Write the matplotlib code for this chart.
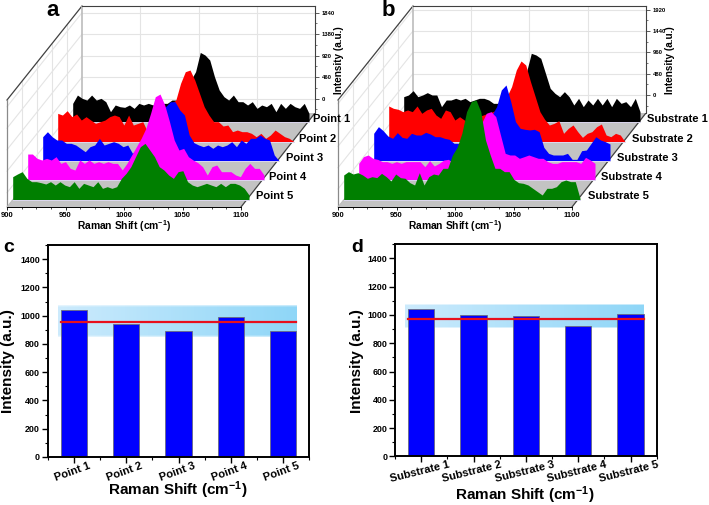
import numpy as np
import matplotlib
matplotlib.use("Agg")
import matplotlib.pyplot as plt
from matplotlib.patches import Polygon
from matplotlib.transforms import Affine2D
from matplotlib.ticker import MultipleLocator

plt.rcParams['font.family'] = ['Liberation Sans', 'DejaVu Sans']
plt.rcParams['font.weight'] = 'bold'
plt.rcParams['mathtext.fontset'] = 'custom'
plt.rcParams['mathtext.bf'] = 'Liberation Sans:bold'
plt.rcParams['mathtext.rm'] = 'Liberation Sans:bold'
plt.rcParams['mathtext.default'] = 'bf'

W, H = 709, 505
shift = np.arange(900, 1101, 4)

point1 = [-100,78,7,-29,78,-29,7,-64,-278,-135,-171,-185,-135,-207,-100,-135,-100,-135,-64,-100,-100,-29,-29,43,114,399,578,990,934,827,470,185,43,-29,78,-64,-64,-135,-64,-207,-135,-171,-100,-278,-100,-207,-100,-171,-207,-100,-314]
point2 = [100,64,157,29,86,-43,29,-43,-114,-78,-43,29,64,29,-150,64,-150,-114,-78,-292,-185,29,100,207,314,385,742,991,1027,813,528,242,64,-78,-78,-171,-150,-292,-257,-292,-292,-328,-399,-328,-435,-364,-257,-328,-399,-435,-506]
point3 = [14,121,14,-57,-57,-128,-128,-164,-235,-307,-200,-164,-21,-164,-128,-93,-128,-200,-164,-342,-235,-57,86,299,513,585,656,763,763,585,478,50,-114,-164,-200,-164,-235,-164,-200,-164,-93,-200,-57,-128,-21,-21,50,-21,-57,-378,-499]
point4 = [57,57,-36,-71,-36,-71,0,-143,-107,-250,-285,-71,-143,-71,-143,-107,-143,-107,-143,-143,-285,-143,36,214,392,606,927,1283,1340,1105,749,357,143,178,0,-71,-128,-214,-392,-214,-178,-321,-321,-321,-392,-428,-250,-143,-250,-250,-392]
point5 = [-14,43,93,-50,-121,-121,-143,-171,-121,-193,-121,-193,-228,-121,-264,-157,-193,-228,-121,-264,-228,-264,-228,-50,57,200,414,627,699,556,414,200,128,21,-50,93,114,-121,-193,-228,-193,-157,-193,-228,-157,-228,-157,-157,-193,-264,-406]

sub1 = [-38,0,98,-38,0,53,0,0,-263,-113,-113,-75,-113,-75,-150,-113,-75,-75,-113,-188,-188,-263,-113,-38,113,263,525,938,900,825,488,150,38,-38,75,-38,-225,-75,-263,-113,-225,-75,-225,-75,-263,-75,-188,-150,-263,-75,-375]
sub2 = [188,135,113,60,98,60,188,23,98,135,-15,-90,98,60,-128,-53,-128,-203,-53,-53,-15,23,60,98,173,398,623,998,1200,1110,735,398,60,-113,-240,-203,-143,-428,-315,-240,-390,-518,-428,-390,-278,-218,-465,-503,-428,-465,-615]
sub3 = [8,158,68,-53,-105,23,-83,-105,8,-30,-30,30,-8,-68,-68,-105,-128,-218,-218,-218,-180,-143,-68,8,158,420,608,983,1095,720,270,120,98,83,98,45,-308,-443,-480,-480,-480,-443,-578,-578,-383,-368,-218,-68,-143,-180,-233]
sub4 = [-233,-83,-45,-120,-143,-195,-195,-233,-195,-233,-195,-195,-195,-195,-308,-173,-293,-233,-158,-143,-233,-158,-83,68,218,443,668,893,930,818,405,-8,-45,-45,-120,-83,-45,-83,-120,-120,-195,-233,-233,-195,-195,-195,-195,-233,-98,-158,-233]
sub5 = [-60,15,-38,-8,-60,-135,-98,-120,-23,-98,-195,-38,-120,-135,-233,-285,-8,-285,-98,-38,-60,90,90,390,563,878,1365,1590,1628,1365,728,390,90,90,15,15,-158,-233,-248,-285,-360,-435,-510,-360,-360,-323,-210,-173,-210,-210,-585]

point_names = ['Point 1', 'Point 2', 'Point 3', 'Point 4', 'Point 5']
sub_names = ['Substrate 1', 'Substrate 2', 'Substrate 3', 'Substrate 4', 'Substrate 5']
colors = ['#000000', '#ff0000', '#0000ff', '#ff00ff', '#007f00']
ticks_a = [0, 460, 920, 1380, 1840]
ticks_b = [0, 480, 960, 1440, 1920]

bars_c = [1040, 940, 895, 990, 890]
bars_d = [1040, 1000, 990, 920, 1005]
mean_c, band_c = 955, (850, 1075)
mean_d, band_d = 975, (905, 1070)

fig = plt.figure(figsize=(W / 100, H / 100), dpi=100, facecolor='white')


def px_axes(l, t, r, b, **kw):
    return fig.add_axes([l / W, 1 - b / H, (r - l) / W, (b - t) / H], **kw)


bg = px_axes(0, 0, W, H, zorder=0)
bg.set_xlim(0, W)
bg.set_ylim(H, 0)
bg.axis('off')


def panel3d(ox, series, names, ticks, zero_y, scale, label_xs, letter, letter_x):
    FL, FR, BL, BR = 7 + ox, 241 + ox, 82 + ox, 315 + ox
    top, floor, front = 6, 113, 207
    wall_top_left = 100
    bg.add_patch(Polygon([(FL, front), (FR, front), (BR, floor), (BL, floor)],
                         fc='#c3c3c3', ec='none'))
    g = '#e4e4e4'
    for t in ticks:
        y = zero_y - t / scale
        bg.plot([FL, BL], [y + 94, y], color=g, lw=0.8)
    for k in range(1, 5):
        xk = BL - 15 * k
        bg.plot([xk, xk], [top + 18.8 * k, floor + 18.8 * k], color=g, lw=0.8)
    bg.plot([FL, BL], [wall_top_left, top], color='#404040', lw=0.9)
    bg.plot([FL, FL], [wall_top_left, front], color='#8a8a8a', lw=0.9)
    bg.plot([FL, BL], [front, floor], color='#bdbdbd', lw=0.8)
    bg.plot([FR, BR], [front, floor], color='#404040', lw=0.9)

    wall = px_axes(BL, top, BR, floor, zorder=1)
    wall.set_xlim(900, 1100)
    wall.set_ylim((zero_y - floor) * scale, (zero_y - top) * scale)
    wall.set_xticks([950, 1000, 1050])
    wall.tick_params(axis='x', length=0, labelbottom=False)
    wall.grid(True, color=g, lw=0.8)
    wall.set_axisbelow(True)
    wall.yaxis.tick_right()
    wall.set_yticks(ticks)
    wall.yaxis.set_minor_locator(MultipleLocator((ticks[1] - ticks[0]) / 2))
    wall.tick_params(axis='y', which='major', labelsize=4.2, length=3, width=0.6, pad=2, color='#404040')
    wall.tick_params(axis='y', which='minor', length=1.5, width=0.5, color='#404040')
    wall.spines['bottom'].set_visible(False)
    wall.spines['left'].set_color('#bcbcbc')
    wall.spines['left'].set_linewidth(1.2)
    wall.spines['top'].set_color('#404040')
    wall.spines['right'].set_color('#404040')
    wall.spines['top'].set_linewidth(0.8)
    wall.spines['right'].set_linewidth(0.8)

    fx = px_axes(FL, front - 1, FR, front, zorder=2)
    fx.patch.set_alpha(0)
    fx.set_xlim(900, 1100)
    fx.set_yticks([])
    fx.set_xticks([900, 950, 1000, 1050, 1100])
    fx.xaxis.set_minor_locator(MultipleLocator(12.5))
    fx.tick_params(axis='x', which='major', labelsize=5.5, length=2.5, width=0.6, pad=1)
    fx.tick_params(axis='x', which='minor', length=1.5, width=0.5)
    for s in ['top', 'left', 'right']:
        fx.spines[s].set_visible(False)
    fx.spines['bottom'].set_linewidth(0.7)

    ax = px_axes(72.7 + ox, top, 309 + ox, 122.3, zorder=3)
    ax.axis('off')
    ax.set_xlim(900, 1100)
    ax.set_ylim((zero_y - 122.3) * scale, (zero_y - top) * scale)
    base = ax.get_ylim()[0]
    for k, (vals, c) in enumerate(zip(series, colors)):
        tr = ax.transData + Affine2D().translate(-15 * k, -19.33 * k)
        ax.fill_between(shift, vals, base, color=c, lw=0, transform=tr, clip_on=False, zorder=2 + k)
        ax.plot([900, 1100], [base, base], color='#ddd8f0', lw=0.7, transform=tr,
                clip_on=False, zorder=2 + k)

    label_ys = [119, 138.5, 158, 177, 196]
    for name, lx, ly in zip(names, label_xs, label_ys):
        fig.text(lx / W, 1 - ly / H, name, fontsize=8, ha='left', va='center', zorder=6)
    fig.text((124 + ox) / W, 1 - 226 / H, r'Raman Shift (cm$^{-1}$)', fontsize=7.4, ha='center', va='center')
    fig.text((339 + ox) / W, 1 - 60 / H, 'Intensity (a.u.)', fontsize=7.2,
             rotation=90, ha='center', va='center', zorder=6)
    fig.text(letter_x / W, 1 - 11 / H, letter, fontsize=16, ha='center', va='center', zorder=6)


panel3d(0, [point1, point2, point3, point4, point5], point_names, ticks_a, 98.7, 21.4,
        [313, 299, 286, 269, 256], 'a', 53)
panel3d(331, [sub1, sub2, sub3, sub4, sub5], sub_names, ticks_b, 95, 22.5,
        [647, 632, 617, 601, 588], 'b', 388)


def barpanel(l, t, r, b, vals, mean, band, names, letter, lx, rot, lab):
    ax = px_axes(l, t, r, b, zorder=2)
    pos = np.arange(1, 6)
    n = 60
    rgba = np.zeros((24, n, 4))
    rgba[..., 0] = np.linspace(0.80, 0.56, n)
    rgba[..., 1] = np.linspace(0.92, 0.84, n)
    rgba[..., 2] = np.linspace(0.99, 0.97, n)
    rgba[..., 3] = 1
    rgba[0, :, 3] = rgba[-1, :, 3] = 0.5
    ax.imshow(rgba, extent=(0.69, 5.25, band[0], band[1]), aspect='auto',
              origin='lower', zorder=1, interpolation='bilinear')
    ax.set_xlim(0.5, 5.5)
    ax.set_ylim(0, 1500)
    ax.bar(pos, vals, width=0.5, color='#0000ff', edgecolor='#6a6a80', linewidth=0.6, zorder=2)
    ax.plot([0.75, 5.25], [mean, mean], color='#e8101c', lw=1.6, zorder=3)
    ax.set_xticks(pos)
    ax.set_xticklabels([])
    ax.xaxis.set_minor_locator(MultipleLocator(0.5))
    ax.set_yticks(np.arange(0, 1401, 200))
    ax.yaxis.set_minor_locator(MultipleLocator(100))
    ax.tick_params(axis='both', which='major', length=4, width=1, labelsize=6.4, pad=1.5)
    ax.tick_params(axis='both', which='minor', length=2, width=0.8)
    for s in ax.spines.values():
        s.set_linewidth(1.4)
    for p, name in zip(pos, names):
        ax.annotate(name, xy=(p, 0), xycoords=('data', 'axes fraction'), xytext=(-1, -2.5),
                    textcoords='offset points', rotation=rot, ha='center', va='top',
                    fontsize=8)
    fig.text(lab[0] / W, 1 - lab[1] / H, r'Raman Shift (cm$^{-1}$)', fontsize=11, ha='center', va='center')
    fig.text(lab[2] / W, 1 - 361 / H, 'Intensity (a.u.)', fontsize=11, rotation=90, ha='center', va='center')
    fig.text(lx / W, 1 - 248 / H, letter, fontsize=14, ha='center', va='center')


barpanel(47.7, 245, 309.3, 457, bars_c, mean_c, band_c, point_names, 'c', 9, 20, (178, 490, 8))
barpanel(395, 244.3, 656.7, 456.3, bars_d, mean_d, band_d, sub_names, 'd', 357, 14, (525, 495, 357))

fig.savefig('out.png', dpi=100)
